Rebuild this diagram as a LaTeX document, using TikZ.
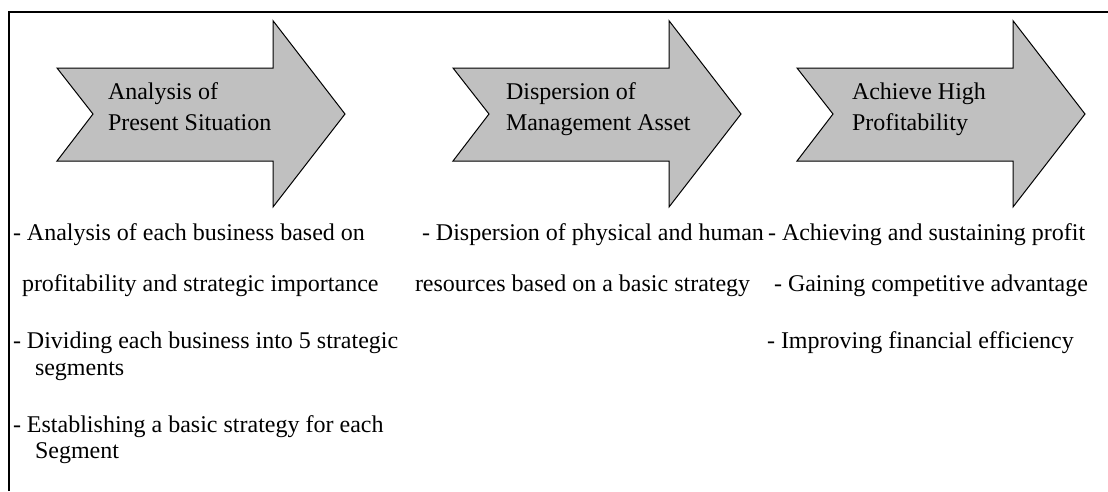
\documentclass[tikz,border=0pt]{standalone}
\usepackage{fontspec}
\setmainfont{Liberation Serif}
\definecolor{arrowgray}{RGB}{192,192,192}
\begin{document}
\begin{tikzpicture}[x=1pt,y=-1pt,
  flowarrow/.style={draw=black, line width=1pt, fill=arrowgray, line join=miter},
  frameline/.style={draw=black, line width=2pt},
  txt/.style={anchor=base west, inner sep=0pt, outer sep=0pt,
              font=\fontsize{24}{25}\selectfont}]
\useasboundingbox (0,0) rectangle (1108,491);

% open frame: top and left edges only
\draw[frameline] (9,491) -- (9,12) -- (1108,12);

% three notched block arrows
\foreach \x in {57,453,797} {
  \draw[flowarrow] (\x,68) -- ++(216,0) -- ++(0,-47.3) -- ++(72,93.3)
    -- ++(-72,93) -- ++(0,-46) -- ++(-216,0) -- ++(36,-47) -- cycle;
}

% arrow captions
\node[txt] (capA1) at (108,99)  {Analysis of};
\node[txt] (capA2) at (108,130) {Present Situation};
\node[txt] (capB1) at (506,99)  {Dispersion of};
\node[txt] (capB2) at (506,130) {Management Asset};
\node[txt] (capC1) at (852,99)  {Achieve High};
\node[txt] (capC2) at (852,130) {Profitability};

% first column
\node[txt] (a1) at (13,240) {- Analysis of each business based on};
\node[txt] (a2) at (22,291) {profitability and strategic importance};
\node[txt] (a3) at (13,348) {- Dividing each business into 5 strategic};
\node[txt] (a4) at (35,375) {segments};
\node[txt] (a5) at (13,432) {- Establishing a basic strategy for each};
\node[txt] (a6) at (35,458) {Segment};

% second column
\node[txt] (b1) at (422,240) {- Dispersion of physical and human};
\node[txt] (b2) at (415,291) {resources based on a basic strategy};

% third column
\node[txt] (c1) at (768,240) {- Achieving and sustaining profit};
\node[txt] (c2) at (774,291) {- Gaining competitive advantage};
\node[txt] (c3) at (767,348) {- Improving financial efficiency};
\end{tikzpicture}
\end{document}
